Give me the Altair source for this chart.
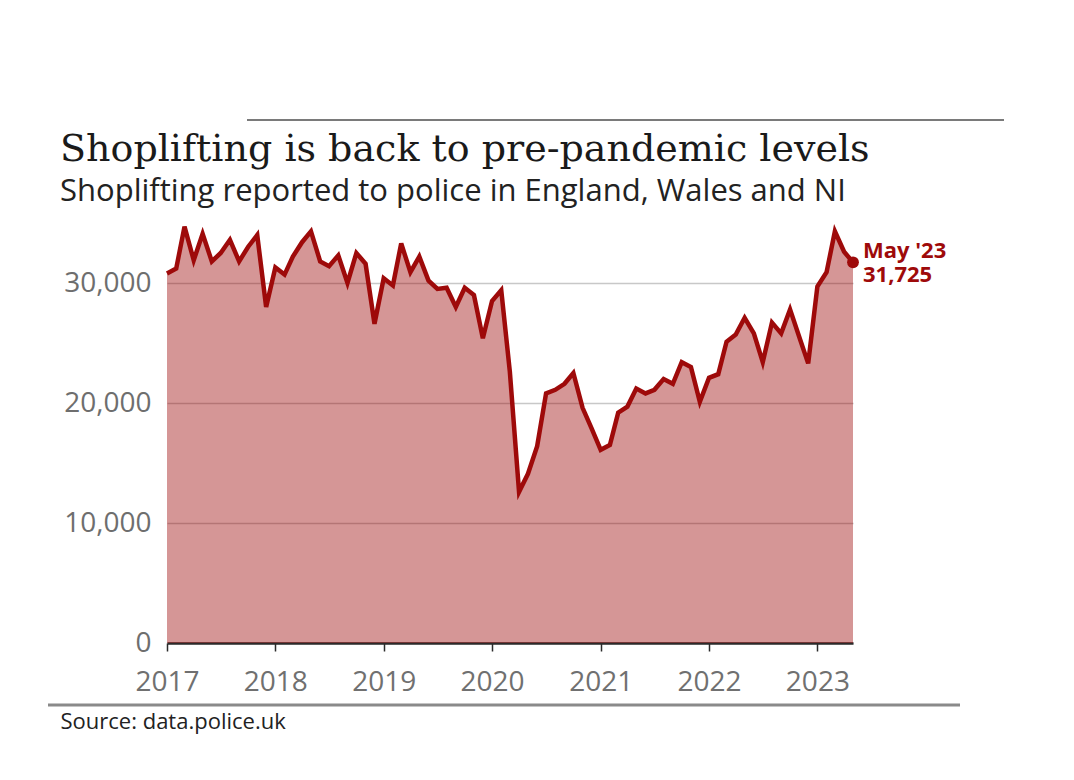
import altair as alt
import pandas as pd

# ---- data ----
years = [2017, 2018, 2019, 2020, 2021, 2022, 2023]
values_2017 = [30800, 31200, 34700, 31900, 34100, 31800, 32500, 33600, 31800, 33000, 34000, 28000]
values_2018 = [31300, 30700, 32200, 33400, 34300, 31800, 31400, 32300, 30000, 32500, 31600, 26600]
values_2019 = [30400, 29800, 33300, 30900, 32200, 30200, 29500, 29600, 28000, 29600, 29000, 25400]
values_2020 = [28500, 29400, 22600, 12600, 14100, 16400, 20800, 21100, 21600, 22500, 19600, 17900]
values_2021 = [16100, 16500, 19200, 19700, 21200, 20800, 21100, 22000, 21600, 23400, 23000, 20100]
values_2022 = [22100, 22400, 25100, 25700, 27100, 25800, 23400, 26700, 25800, 27800, 25500, 23300]
values_2023 = [29700, 30900, 34300, 32600, 31725]
series = [values_2017, values_2018, values_2019, values_2020, values_2021, values_2022, values_2023]

y_ticks = [0, 10000, 20000, 30000]
last_label = "May '23"

title_text = "Shoplifting is back to pre-pandemic levels"
subtitle_text = "Shoplifting reported to police in England, Wales and NI"
source_text = "Source: data.police.uk"

rows = []
for yr, vals in zip(years, series):
    for m, v in enumerate(vals, start=1):
        rows.append({"date": f"{yr}-{m:02d}-01T00:00:00", "value": v})
df = pd.DataFrame(rows)
last = df.tail(1).copy()
last["label1"] = last_label
last["label2"] = f"{int(last['value'].iloc[0]):,}"

RED = "#9e0a0a"

x_enc = alt.X(
    "date:T",
    scale=alt.Scale(domain=["2017-01-01T00:00:00", "2023-05-01T00:00:00"]),
    axis=alt.Axis(
        format="%Y",
        tickCount={"interval": "year", "step": 1},
        title=source_text,
        titleX=-107,
        titleY=78,
        titleAlign="left",
        titleBaseline="middle",
        titleFont="Open Sans",
        titleFontSize=22,
        titleFontWeight="normal",
        titleColor="#222222",
        labelFont="Open Sans",
        labelFontSize=28,
        labelColor="#707070",
        labelPadding=17,
        domainColor="#2b2b2b",
        domainWidth=2.5,
        tickColor="#2b2b2b",
        tickWidth=1.5,
        tickSize=8,
        grid=False,
        labelFlush=False,
    ),
)
y_enc = alt.Y(
    "value:Q",
    scale=alt.Scale(domain=[0, 35000], nice=False),
    axis=alt.Axis(
        values=y_ticks,
        format=",d",
        title=None,
        domain=False,
        ticks=False,
        labelFont="Open Sans",
        labelFontSize=28,
        labelColor="#6e6e6e",
        labelPadding=16,
        gridColor="#c8c8c8",
        gridWidth=1.5,
    ),
)

base = alt.Chart(df)
area = base.mark_area(color="#990000", opacity=0.41).encode(x=x_enc, y=y_enc)
line = base.mark_line(color=RED, strokeWidth=4.5).encode(x="date:T", y="value:Q")
dot = alt.Chart(last).mark_point(filled=True, color=RED, size=140, opacity=1).encode(
    x="date:T", y="value:Q"
)
text_style = dict(align="left", baseline="middle", dx=10, font="Open Sans",
                  fontSize=22, fontWeight="bold", color=RED)
label1 = alt.Chart(last).mark_text(dy=-11, **text_style).encode(
    x="date:T", y="value:Q", text="label1:N"
)
label2 = alt.Chart(last).mark_text(dy=13, **text_style).encode(
    x="date:T", y="value:Q", text="label2:N"
)

top_rule = alt.Chart(last).mark_rule(color="#7a7a7a", strokeWidth=2).encode(
    x=alt.value(80), x2=alt.value(837), y=alt.value(-103)
)
bottom_rule = alt.Chart(last).mark_rule(color="#8a8a8a", strokeWidth=3).encode(
    x=alt.value(-119), x2=alt.value(793), y=alt.value(482)
)

chart = alt.layer(area, line, dot, label1, label2, top_rule, bottom_rule).properties(
    width=686,
    height=420,
    autosize=alt.AutoSizeParams(type="none"),
    padding={"left": 167, "top": 223, "right": 221, "bottom": 137},
    title=alt.TitleParams(
        text=title_text,
        subtitle=subtitle_text,
        anchor="start",
        frame="group",
        dx=-107,
        dy=102,
        offset=14,
        font="DejaVu Serif",
        fontSize=38,
        fontWeight="normal",
        color="#1a1a1a",
        subtitleFont="Open Sans",
        subtitleFontSize=31,
        subtitleColor="#222222",
        subtitlePadding=8,
    ),
).configure_view(stroke=None)

chart.save("out.html", embed_options={"renderer": "svg", "actions": False})
